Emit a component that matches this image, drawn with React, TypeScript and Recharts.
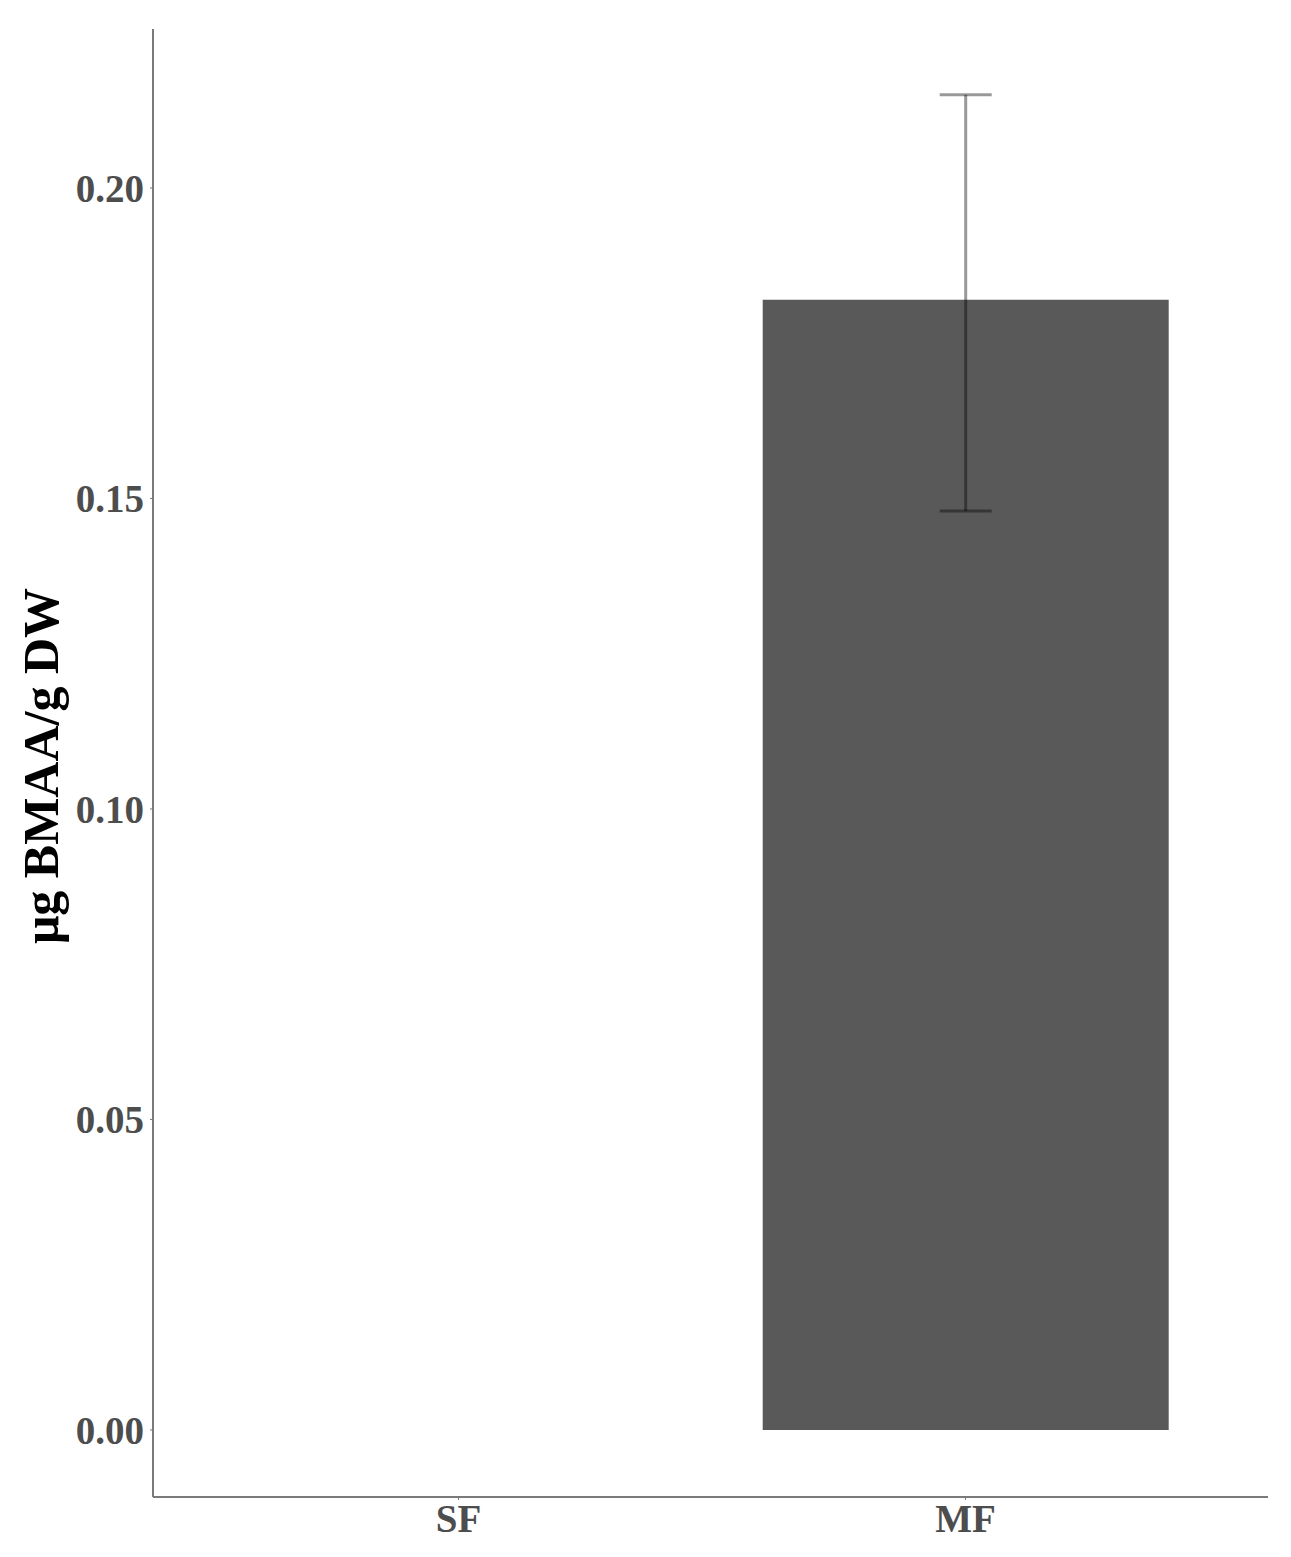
import React from 'react';
import { BarChart, Bar, XAxis, YAxis, ErrorBar, Label } from 'recharts';

const groups = ['SF', 'MF'];
const means = [0, 0.182];
const errors = [null, [0.034, 0.033]];
const yTicks = [0, 0.05, 0.1, 0.15, 0.2];

const data = groups.map((g, i) => ({ group: g, value: means[i], err: errors[i] }));

const font = '"Liberation Serif", "Times New Roman", serif';
const tickStyle = { fill: '#4d4d4d', fontSize: 39, fontWeight: 'bold', fontFamily: font };

const YTitle = (props: any) => {
  const vb = props.viewBox || {};
  const cy = vb.y + vb.height / 2 + 3;
  return (
    <text
      x={50}
      y={cy}
      transform={`rotate(-90, 50, ${cy})`}
      textAnchor='middle'
      fontFamily={font}
      fontWeight='bold'
      fontSize={50}
      fill='#000'
    >
      μg BMAA/g DW
    </text>
  );
};

export default function App() {
  return (
    <div style={{ width: 1275, height: 1540 }}>
      <BarChart
        width={1275}
        height={1540}
        data={data}
        margin={{ top: 21, right: 15, bottom: 0, left: 0 }}
        barCategoryGap='10%'
      >
        <XAxis
          dataKey='group'
          padding={{ left: 52, right: 49 }}
          height={51}
          axisLine={{ stroke: '#7a7a7a', strokeWidth: 2 }}
          tickLine={{ stroke: '#7a7a7a' }}
          tickSize={3}
          tick={tickStyle}
          tickMargin={4}
        />
        <YAxis
          type='number'
          width={145}
          domain={[-0.0108, 0.2256]}
          ticks={yTicks}
          tickFormatter={(v: number) => v.toFixed(2)}
          axisLine={{ stroke: '#7a7a7a', strokeWidth: 2 }}
          tickLine={{ stroke: '#7a7a7a' }}
          tickSize={3}
          tick={tickStyle}
          tickMargin={6}
          allowDataOverflow
        >
          <Label content={<YTitle />} />
        </YAxis>
        <Bar dataKey='value' fill='#595959' isAnimationActive={false}>
          <ErrorBar
            dataKey='err'
            width={26}
            stroke='#000'
            strokeOpacity={0.4}
            strokeWidth={3}
            isAnimationActive={false}
          />
        </Bar>
      </BarChart>
    </div>
  );
}
